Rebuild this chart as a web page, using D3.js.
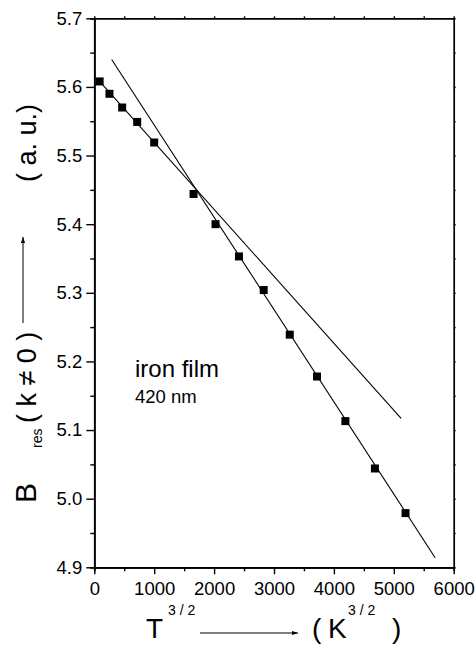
<!DOCTYPE html>
<html>
<head>
<meta charset="utf-8">
<script src="https://cdn.jsdelivr.net/npm/d3@7"></script>
<style>
  html, body { margin: 0; padding: 0; background: #fff; }
  svg { display: block; }
  text { font-family: "Liberation Sans", Arial, sans-serif; fill: #000; }
</style>
</head>
<body>
<svg id="chart" width="476" height="647"></svg>
<script>
// Resonance field B_res (k != 0) of a 420 nm iron film versus T^(3/2)
const temperaturePow = [89, 253, 465, 716, 1000, 1657, 2024, 2415, 2828, 3263, 3718, 4192, 4685, 5196];
const resonanceField = [5.608, 5.590, 5.570, 5.549, 5.519, 5.444, 5.400, 5.353, 5.304, 5.239, 5.178, 5.113, 5.044, 4.979];

// Linear fits: low-temperature branch and high-temperature branch (end points)
const lowFitX = [89, 5122];
const lowFitY = [5.608, 5.117];
const highFitX = [290, 5690];
const highFitY = [5.640, 4.914];

// Axis ticks
const xTicks = [0, 1000, 2000, 3000, 4000, 5000, 6000];
const xMinorTicks = [500, 1500, 2500, 3500, 4500, 5500];
const yTicks = [4.9, 5.0, 5.1, 5.2, 5.3, 5.4, 5.5, 5.6, 5.7];
const yMinorTicks = [4.95, 5.05, 5.15, 5.25, 5.35, 5.45, 5.55, 5.65];

const svg = d3.select("#chart");
const plotLeft = 94.3, plotRight = 453.7, plotTop = 18.3, plotBottom = 567.3;

const x = d3.scaleLinear().domain([0, 6000]).range([plotLeft, plotRight]);
const y = d3.scaleLinear().domain([4.9, 5.7]).range([plotBottom, plotTop]);

function styleAxis(g) {
  g.selectAll("path.domain").attr("stroke", "#000").attr("stroke-width", 1.7);
  g.selectAll(".tick line").attr("stroke", "#000").attr("stroke-width", 1.4);
  g.selectAll("text").attr("font-size", 18.5).attr("fill", "#000")
    .attr("font-family", "'Liberation Sans', Arial, sans-serif");
}

// bottom axis
svg.append("g").attr("transform", `translate(0,${plotBottom})`)
  .call(d3.axisBottom(x).tickValues(xMinorTicks).tickSize(4).tickFormat(""))
  .call(styleAxis);
svg.append("g").attr("transform", `translate(0,${plotBottom})`)
  .call(d3.axisBottom(x).tickValues(xTicks).tickSize(7).tickPadding(8).tickFormat(d3.format("d")).tickSizeOuter(0))
  .call(styleAxis);

// top axis (tiny ticks)
svg.append("g").attr("transform", `translate(0,${plotTop})`)
  .call(d3.axisTop(x).tickValues(xTicks.concat(xMinorTicks)).tickSize(2).tickFormat("").tickSizeOuter(0))
  .call(styleAxis);

// left axis
svg.append("g").attr("transform", `translate(${plotLeft},0)`)
  .call(d3.axisLeft(y).tickValues(yMinorTicks).tickSize(4).tickFormat(""))
  .call(styleAxis);
svg.append("g").attr("transform", `translate(${plotLeft},0)`)
  .call(d3.axisLeft(y).tickValues(yTicks).tickSize(8).tickPadding(4).tickFormat(d3.format(".1f")).tickSizeOuter(0))
  .call(styleAxis);

// right axis (tiny ticks)
svg.append("g").attr("transform", `translate(${plotRight},0)`)
  .call(d3.axisRight(y).tickValues(yTicks.concat(yMinorTicks)).tickSize(2).tickFormat("").tickSizeOuter(0))
  .call(styleAxis);

// fit lines
const line = d3.line().x(d => x(d[0])).y(d => y(d[1]));
svg.append("path").datum(d3.zip(lowFitX, lowFitY))
  .attr("d", line).attr("fill", "none").attr("stroke", "#000").attr("stroke-width", 1.1);
svg.append("path").datum(d3.zip(highFitX, highFitY))
  .attr("d", line).attr("fill", "none").attr("stroke", "#000").attr("stroke-width", 1.1);

// data squares
const sq = 8;
svg.append("g").selectAll("rect")
  .data(d3.zip(temperaturePow, resonanceField))
  .join("rect")
  .attr("x", d => x(d[0]) - sq / 2)
  .attr("y", d => y(d[1]) - sq / 2)
  .attr("width", sq).attr("height", sq)
  .attr("fill", "#000");

// sample annotation
svg.append("text").attr("x", 135).attr("y", 377)
  .attr("font-family", "'Noto Sans', 'Open Sans', sans-serif").attr("font-size", 24)
  .text("iron film");
svg.append("text").attr("x", 135).attr("y", 403)
  .attr("font-family", "'Noto Sans', 'Open Sans', sans-serif").attr("font-size", 18.5)
  .text("420 nm");

// arrow head marker
svg.append("defs").append("marker")
  .attr("id", "arrow").attr("viewBox", "0 0 10 10")
  .attr("refX", 10).attr("refY", 5)
  .attr("markerWidth", 6).attr("markerHeight", 6)
  .attr("markerUnits", "userSpaceOnUse")
  .attr("orient", "auto")
  .append("path").attr("d", "M0,1.5 L10,5 L0,8.5 Z").attr("fill", "#000");

// x-axis title: T^(3/2) ---> (K^(3/2))
const xt = svg.append("g");
xt.append("text").attr("x", 146).attr("y", 638).attr("font-size", 28).text("T");
xt.append("text").attr("x", 168).attr("y", 615).attr("font-size", 14).text("3 / 2");
xt.append("line").attr("x1", 200).attr("y1", 633).attr("x2", 298).attr("y2", 633)
  .attr("stroke", "#000").attr("stroke-width", 1).attr("marker-end", "url(#arrow)");
xt.append("text").attr("x", 312).attr("y", 638).attr("font-size", 28).text("(");
xt.append("text").attr("x", 328).attr("y", 638).attr("font-size", 28).text("K");
xt.append("text").attr("x", 348).attr("y", 615).attr("font-size", 14).text("3 / 2");
xt.append("text").attr("x", 392).attr("y", 638).attr("font-size", 28).text(")");

// y-axis title: B_res (k ≠ 0) ---> (a. u.)
const yt = svg.append("g");
yt.append("text").attr("transform", "translate(36,503) rotate(-90)").attr("font-size", 30).text("B");
yt.append("text").attr("transform", "translate(42,448) rotate(-90)").attr("font-size", 14).text("res");
yt.append("text").attr("transform", "translate(36,423) rotate(-90)").attr("font-size", 27).text("( k \u2260 0 )");
yt.append("line").attr("x1", 23).attr("y1", 323).attr("x2", 23).attr("y2", 237)
  .attr("stroke", "#000").attr("stroke-width", 1).attr("marker-end", "url(#arrow)");
yt.append("text").attr("transform", "translate(36,182) rotate(-90)").attr("font-size", 27).text("( a. u.)");
</script>
</body>
</html>
